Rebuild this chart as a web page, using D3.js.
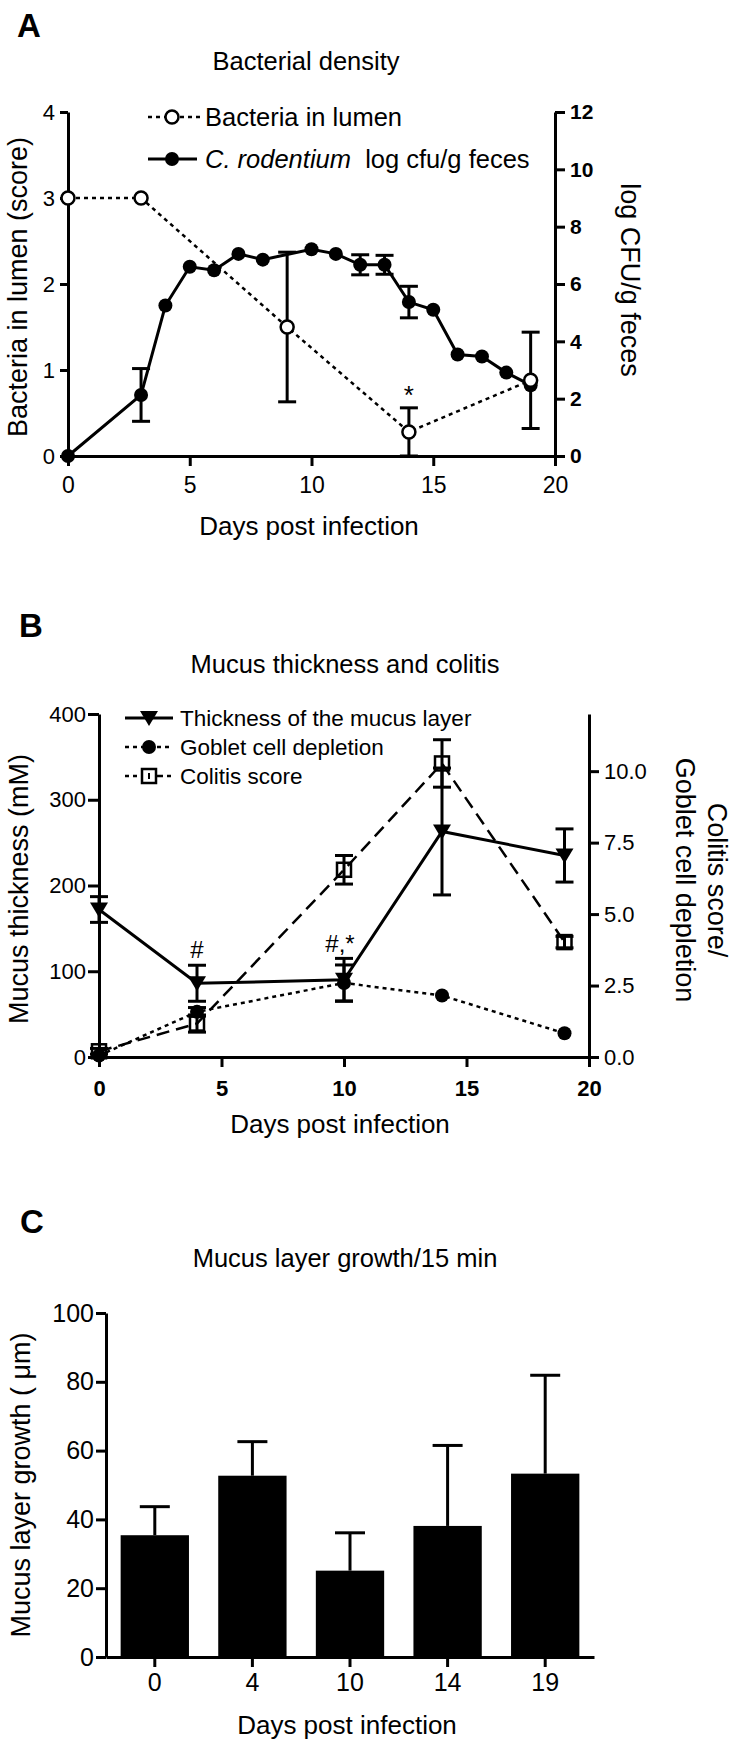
<!DOCTYPE html>
<html><head><meta charset="utf-8">
<script src="https://cdn.jsdelivr.net/npm/d3@7"></script>
<style>body{margin:0;background:#fff}svg{display:block}text{font-family:"Liberation Sans",Arial,sans-serif;fill:#000}</style>
</head><body>
<script>
// ---------- Panel A data ----------
const lumenDays = [0, 3, 9, 14, 19];
const lumenScore = [3, 3, 1.5, 0.28, 0.88];
const lumenErr = [0, 0, 0.87, 0.28, 0.56];
const cfuDays = [0, 3, 4, 5, 6, 7, 8, 10, 11, 12, 13, 14, 15, 16, 17, 18, 19];
const cfuLog = [0, 2.13, 5.25, 6.60, 6.48, 7.05, 6.85, 7.21, 7.05, 6.67, 6.67, 5.37, 5.10, 3.54, 3.47, 2.91, 2.47];
const cfuErr = [0, 0.92, 0, 0, 0, 0, 0, 0, 0, 0.35, 0.33, 0.55, 0, 0, 0, 0, 0];
const ticksA_x = [0, 5, 10, 15, 20];
const ticksA_left = [0, 1, 2, 3, 4];
const ticksA_right = [0, 2, 4, 6, 8, 10, 12];
// ---------- Panel B data ----------
const daysB = [0, 4, 10, 14, 19];
const thickness = [172, 86, 90, 263, 235];
const thicknessErr = [15, 21, 25, 74, 31];
const goblet = [0.05, 1.58, 2.59, 2.15, 0.83];
const gobletErr = [0, 0.15, 0.63, 0, 0];
const colitis = [0.2, 1.17, 6.55, 10.27, 4.02];
const colitisErr = [0.1, 0.3, 0.5, 0.83, 0.2];
const ticksB_x = [0, 5, 10, 15, 20];
const ticksB_left = [0, 100, 200, 300, 400];
const ticksB_right = [0, 2.5, 5, 7.5, 10];
// ---------- Panel C data ----------
const catsC = ["0", "4", "10", "14", "19"];
const growth = [35.4, 52.7, 25.1, 38.1, 53.3];
const growthErr = [8.3, 9.9, 11.0, 23.4, 28.6];
const ticksC_left = [0, 20, 40, 60, 80, 100];

const svg = d3.select("body").append("svg").attr("width", 738).attr("height", 1747);
svg.append("rect").attr("width", 738).attr("height", 1747).attr("fill", "#fff");
const F = '"Liberation Sans",Arial,sans-serif';
const fmtInt = d3.format("d");

function txt(x, y, s, size, opts = {}) {
  const t = svg.append("text").attr("x", x).attr("y", y).attr("font-size", size)
    .attr("text-anchor", opts.anchor || "start");
  if (opts.bold) t.attr("font-weight", "bold");
  if (opts.rot !== undefined) t.attr("transform", `rotate(${opts.rot},${x},${y})`);
  t.text(s);
  return t;
}
function styleAxis(g, fs, bold) {
  g.selectAll("path.domain").attr("stroke", "#000").attr("stroke-width", 3);
  g.selectAll(".tick line").attr("stroke", "#000").attr("stroke-width", 3);
  g.selectAll(".tick text").attr("font-size", fs).attr("font-family", F).attr("fill", "#000")
    .attr("font-weight", bold ? "bold" : "normal");
}
function errBar(g, x, y1, y2, hw, sw) {
  g.append("line").attr("x1", x).attr("x2", x).attr("y1", y1).attr("y2", y2).attr("stroke", "#000").attr("stroke-width", sw);
  [y1, y2].forEach(y => g.append("line").attr("x1", x - hw).attr("x2", x + hw).attr("y1", y).attr("y2", y).attr("stroke", "#000").attr("stroke-width", sw));
}

// ================= Panel A =================
txt(17, 37, "A", 33, { bold: true });
txt(306, 70, "Bacterial density", 25.5, { anchor: "middle" });
const xA = d3.scaleLinear([0, 20], [68, 555]);
const yA = d3.scaleLinear([0, 4], [456, 112]);
const yA2 = d3.scaleLinear([0, 12], [456, 112]);
styleAxis(svg.append("g").attr("transform", "translate(0,456)")
  .call(d3.axisBottom(xA).tickValues(ticksA_x).tickFormat(fmtInt).tickSize(10).tickSizeOuter(0).tickPadding(11)), 23, false);
styleAxis(svg.append("g").attr("transform", "translate(68,0)")
  .call(d3.axisLeft(yA).tickValues(ticksA_left).tickFormat(fmtInt).tickSize(8).tickSizeOuter(0).tickPadding(5)), 22, false);
styleAxis(svg.append("g").attr("transform", "translate(555,0)")
  .call(d3.axisRight(yA2).tickValues(ticksA_right).tickFormat(fmtInt).tickSize(10).tickSizeOuter(0).tickPadding(5)), 21, true);
txt(309, 535, "Days post infection", 26, { anchor: "middle" });
txt(27, 287, "Bacteria in lumen  (score)", 27, { anchor: "middle", rot: -90 });
txt(621, 280, "log CFU/g feces", 27, { anchor: "middle", rot: 90 });

const gA = svg.append("g");
cfuDays.forEach((d, i) => { if (cfuErr[i] > 0) errBar(gA, xA(d), yA2(cfuLog[i] + cfuErr[i]), yA2(Math.max(0, cfuLog[i] - cfuErr[i])), 9, 3); });
lumenDays.forEach((d, i) => { if (lumenErr[i] > 0) errBar(gA, xA(d), yA(lumenScore[i] + lumenErr[i]), yA(Math.max(0, lumenScore[i] - lumenErr[i])), 9, 3); });
gA.append("path").datum(cfuDays.map((d, i) => [xA(d), yA2(cfuLog[i])]))
  .attr("d", d3.line()).attr("fill", "none").attr("stroke", "#000").attr("stroke-width", 3);
gA.append("path").datum(lumenDays.map((d, i) => [xA(d), yA(lumenScore[i])]))
  .attr("d", d3.line()).attr("fill", "none").attr("stroke", "#000").attr("stroke-width", 2.5).attr("stroke-dasharray", "4,4");
cfuDays.forEach((d, i) => gA.append("circle").attr("cx", xA(d)).attr("cy", yA2(cfuLog[i])).attr("r", 7).attr("fill", "#000"));
lumenDays.forEach((d, i) => gA.append("circle").attr("cx", xA(d)).attr("cy", yA(lumenScore[i])).attr("r", 6.5).attr("fill", "#fff").attr("stroke", "#000").attr("stroke-width", 2.5));
txt(xA(14), 404, "*", 26, { anchor: "middle" });
// legend A
gA.append("line").attr("x1", 148).attr("x2", 200).attr("y1", 117).attr("y2", 117).attr("stroke", "#000").attr("stroke-width", 2.5).attr("stroke-dasharray", "4,4");
gA.append("circle").attr("cx", 172).attr("cy", 117).attr("r", 6.5).attr("fill", "#fff").attr("stroke", "#000").attr("stroke-width", 2.5);
txt(205, 126, "Bacteria in lumen", 25.5);
gA.append("line").attr("x1", 148).attr("x2", 197).attr("y1", 159).attr("y2", 159).attr("stroke", "#000").attr("stroke-width", 3);
gA.append("circle").attr("cx", 172).attr("cy", 159).attr("r", 7).attr("fill", "#000");
const lt = svg.append("text").attr("x", 205).attr("y", 168).attr("font-size", 25.5).attr("xml:space", "preserve");
lt.append("tspan").attr("font-style", "italic").text("C. rodentium");
lt.append("tspan").text("  log cfu/g feces");

// ================= Panel B =================
txt(19, 637, "B", 33, { bold: true });
txt(345, 673, "Mucus thickness and colitis", 25.5, { anchor: "middle" });
const xB = d3.scaleLinear([0, 20], [99, 589]);
const yB = d3.scaleLinear([0, 400], [1057, 714]);
const yB2 = d3.scaleLinear([0, 12], [1057, 714]);
styleAxis(svg.append("g").attr("transform", "translate(0,1057)")
  .call(d3.axisBottom(xB).tickValues(ticksB_x).tickFormat(fmtInt).tickSize(10).tickSizeOuter(0).tickPadding(13)), 22, true);
styleAxis(svg.append("g").attr("transform", "translate(99,0)")
  .call(d3.axisLeft(yB).tickValues(ticksB_left).tickFormat(fmtInt).tickSize(11).tickSizeOuter(0).tickPadding(2)), 22, false);
styleAxis(svg.append("g").attr("transform", "translate(589,0)")
  .call(d3.axisRight(yB2).tickValues(ticksB_right).tickFormat(d3.format(".1f")).tickSize(10).tickSizeOuter(0).tickPadding(5)), 22, false);
txt(340, 1133, "Days post infection", 26, { anchor: "middle" });
txt(28, 889, "Mucus thickness  (mM)", 27, { anchor: "middle", rot: -90 });
txt(708, 880, "Colitis score/", 27, { anchor: "middle", rot: 90 });
txt(676, 880, "Goblet cell depletion", 27, { anchor: "middle", rot: 90 });

const gB = svg.append("g");
daysB.forEach((d, i) => {
  errBar(gB, xB(d), yB(thickness[i] + thicknessErr[i]), yB(thickness[i] - thicknessErr[i]), 9, 3);
  if (gobletErr[i] > 0) errBar(gB, xB(d), yB2(goblet[i] + gobletErr[i]), yB2(goblet[i] - gobletErr[i]), 9, 3);
  errBar(gB, xB(d), yB2(colitis[i] + colitisErr[i]), yB2(Math.max(0, colitis[i] - colitisErr[i])), 9, 3);
});
gB.append("path").datum(daysB.map((d, i) => [xB(d), yB(thickness[i])]))
  .attr("d", d3.line()).attr("fill", "none").attr("stroke", "#000").attr("stroke-width", 3);
gB.append("path").datum(daysB.map((d, i) => [xB(d), yB2(goblet[i])]))
  .attr("d", d3.line()).attr("fill", "none").attr("stroke", "#000").attr("stroke-width", 2.5).attr("stroke-dasharray", "4,4");
gB.append("path").datum(daysB.map((d, i) => [xB(d), yB2(colitis[i])]))
  .attr("d", d3.line()).attr("fill", "none").attr("stroke", "#000").attr("stroke-width", 2.5).attr("stroke-dasharray", "13,7");
const tri = (cx, cy) => `M${cx - 9},${cy - 7}L${cx + 9},${cy - 7}L${cx},${cy + 8}Z`;
daysB.forEach((d, i) => {
  gB.append("path").attr("d", tri(xB(d), yB(thickness[i]))).attr("fill", "#000");
  gB.append("circle").attr("cx", xB(d)).attr("cy", yB2(goblet[i])).attr("r", 7).attr("fill", "#000");
  gB.append("rect").attr("x", xB(d) - 7).attr("y", yB2(colitis[i]) - 7).attr("width", 14).attr("height", 14)
    .attr("fill", "none").attr("stroke", "#000").attr("stroke-width", 2.5);
});
txt(xB(4), 958, "#", 24, { anchor: "middle" });
txt(xB(10) - 4, 952, "#,*", 24, { anchor: "middle" });
// legend B
gB.append("line").attr("x1", 125).attr("x2", 173).attr("y1", 718).attr("y2", 718).attr("stroke", "#000").attr("stroke-width", 3);
gB.append("path").attr("d", tri(149, 718)).attr("fill", "#000");
txt(180, 726, "Thickness of the mucus layer", 22.5);
gB.append("line").attr("x1", 125).attr("x2", 173).attr("y1", 747).attr("y2", 747).attr("stroke", "#000").attr("stroke-width", 2.5).attr("stroke-dasharray", "4,4");
gB.append("circle").attr("cx", 149).attr("cy", 747).attr("r", 7).attr("fill", "#000");
txt(180, 755, "Goblet cell depletion", 22.5);
gB.append("line").attr("x1", 125).attr("x2", 173).attr("y1", 776).attr("y2", 776).attr("stroke", "#000").attr("stroke-width", 2.5).attr("stroke-dasharray", "4,4,4,4,0,9,13");
gB.append("rect").attr("x", 142).attr("y", 769).attr("width", 14).attr("height", 14).attr("fill", "#fff").attr("stroke", "#000").attr("stroke-width", 2.5);
gB.append("line").attr("x1", 149).attr("x2", 149).attr("y1", 773).attr("y2", 779).attr("stroke", "#000").attr("stroke-width", 2);
txt(180, 784, "Colitis score", 22.5);

// ================= Panel C =================
txt(20, 1233, "C", 33, { bold: true });
txt(345, 1267, "Mucus layer growth/15 min", 25.5, { anchor: "middle" });
const xC = d3.scaleBand(catsC, [106, 594]).paddingInner(0.3).paddingOuter(0.15);
const yC = d3.scaleLinear([0, 100], [1657, 1313]);
const gC = svg.append("g");
catsC.forEach((c, i) => {
  const cx = xC(c) + xC.bandwidth() / 2;
  gC.append("line").attr("x1", cx).attr("x2", cx).attr("y1", yC(growth[i])).attr("y2", yC(growth[i] + growthErr[i])).attr("stroke", "#000").attr("stroke-width", 3);
  gC.append("line").attr("x1", cx - 15).attr("x2", cx + 15).attr("y1", yC(growth[i] + growthErr[i])).attr("y2", yC(growth[i] + growthErr[i])).attr("stroke", "#000").attr("stroke-width", 3);
  gC.append("rect").attr("x", xC(c)).attr("y", yC(growth[i])).attr("width", xC.bandwidth()).attr("height", yC(0) - yC(growth[i])).attr("fill", "#000");
});
styleAxis(svg.append("g").attr("transform", "translate(0,1657)")
  .call(d3.axisBottom(xC).tickSize(10).tickSizeOuter(0).tickPadding(6)), 25, false);
styleAxis(svg.append("g").attr("transform", "translate(106,0)")
  .call(d3.axisLeft(yC).tickValues(ticksC_left).tickFormat(fmtInt).tickSize(10).tickSizeOuter(0).tickPadding(2)), 25, false);
txt(347, 1734, "Days post infection", 26, { anchor: "middle" });
txt(30, 1485, "Mucus layer growth ( \u03bcm)", 27, { anchor: "middle", rot: -90 });
</script>
</body></html>
